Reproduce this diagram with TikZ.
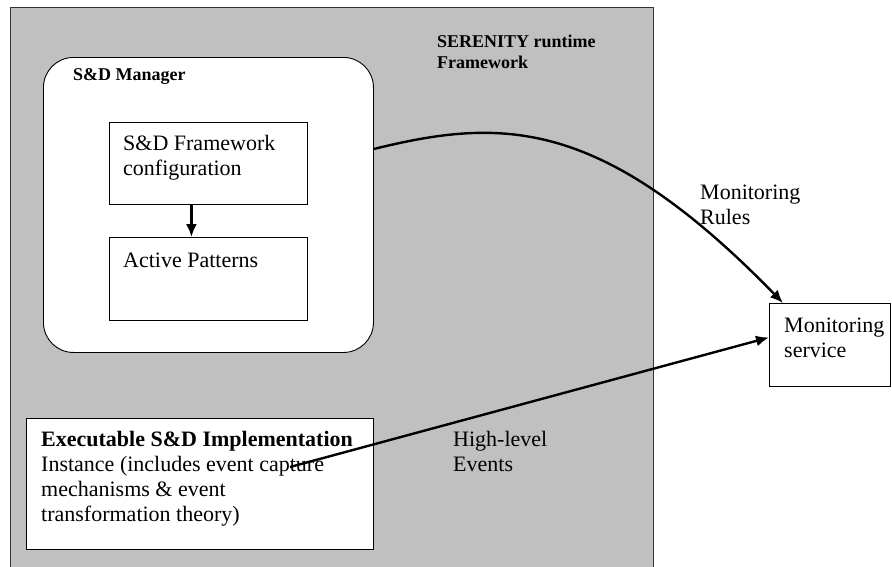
\documentclass[tikz,border=0pt]{standalone}
\usepackage{fontspec}
\setmainfont{Liberation Serif}
\usetikzlibrary{arrows.meta}
\definecolor{panelgray}{RGB}{192,192,192}
\begin{document}
\begin{tikzpicture}[x=1pt,y=-1pt,
  box/.style={draw=black,line width=0.9pt,fill=white,inner sep=0pt,anchor=north west},
  % multi-line labels are placed by the baseline of their last line
  txt/.style={font=\fontsize{22}{25}\selectfont,align=left,inner sep=0pt,anchor=base west},
  btxt/.style={font=\bfseries\fontsize{18}{21}\selectfont,align=left,inner sep=0pt,anchor=base west},
  flow/.style={line width=2.4pt,-{Latex[length=13pt,width=11pt]}}]
\useasboundingbox (0,0) rectangle (892,566);
\clip (0,0) rectangle (892,566);

% runtime framework panel (runs off the bottom edge)
\node[box,draw=black!80,line width=1.3pt,fill=panelgray,minimum width=643pt,minimum height=575pt] (frame) at (10,7) {};
\node[btxt] (frametitle) at (437,68) {SERENITY runtime\\Framework};

% S&D manager with its two inner boxes
\node[box,rounded corners=30pt,minimum width=330pt,minimum height=295pt] (mgr) at (43,57) {};
\node[btxt] (mgrtitle) at (73,80) {S\&D Manager};
\node[box,minimum width=198pt,minimum height=82pt] (cfg) at (109,122) {};
\node[txt] (cfgtext) at (123,175) {S\&D Framework\\configuration};
\node[box,minimum width=198pt,minimum height=83pt] (pat) at (109,237) {};
\node[txt] (pattext) at (123,267) {Active Patterns};
\draw[flow] ([xshift=-17pt]cfg.south) -- ([xshift=-17pt]pat.north);

% executable implementation
\node[box,minimum width=347pt,minimum height=131pt] (exec) at (26,418) {};
\node[txt] (exectext) at (41,521) {\textbf{Executable S\&D Implementation}\\Instance (includes event capture\\mechanisms \& event\\transformation theory)};

% monitoring service outside the framework
\node[box,minimum width=121pt,minimum height=83pt] (mon) at (769,303) {};
\node[txt] (montext) at (784,357) {Monitoring\\service};

% connectors
\draw[flow] ([yshift=56pt]mgr.east) .. controls (500,118) and (600,115) .. ([xshift=14pt]mon.north west);
\node[txt] (rules) at (700,224) {Monitoring\\Rules};
\draw[flow] ([xshift=264pt,yshift=-49pt]exec.north west) -- ([yshift=7.5pt]mon.west);
\node[txt] (events) at (453,471) {High-level\\Events};
\end{tikzpicture}
\end{document}
